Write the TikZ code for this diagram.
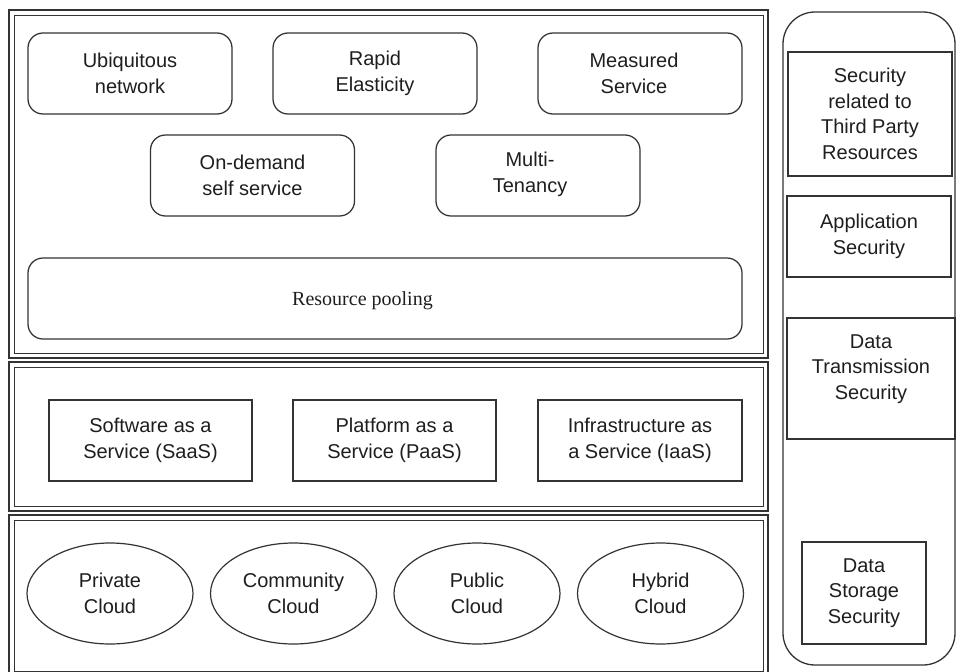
\documentclass[tikz,border=0pt]{standalone}
\usepackage{fontspec}
\setmainfont{Liberation Sans}
\newfontfamily\poolface{Liberation Serif}
\usetikzlibrary{shapes.geometric}

\definecolor{inkline}{HTML}{333333}
\definecolor{inktext}{HTML}{1E1E1E}

\begin{document}
\begin{tikzpicture}[x=1pt,y=-1pt,
  every node/.style={text=inktext},
  labeltext/.style={font=\fontsize{20}{25.5}\selectfont, align=center},
  frameouter/.style={draw=inkline, line width=2pt},
  frameinner/.style={draw=inkline, line width=1pt},
  panel/.style={draw=inkline, line width=1.3pt, rounded corners=32pt},
  featbox/.style={draw=inkline, line width=1.25pt, rounded corners=15pt,
    minimum width=204pt, minimum height=81pt, inner sep=0pt, labeltext},
  servbox/.style={draw=inkline, line width=1.25pt,
    minimum width=203pt, minimum height=81pt, inner sep=0pt, labeltext},
  cloudshape/.style={ellipse, draw=inkline, line width=1.2pt,
    minimum width=166pt, minimum height=101pt, inner sep=0pt, labeltext},
  secbox/.style={draw=inkline, line width=1.3pt, inner sep=0pt, labeltext},
]
\useasboundingbox (0,0) rectangle (956,672);

% three stacked layers, each with a double border
\draw[frameouter] (9,10) rectangle (768,358);
\draw[frameinner] (14,15) rectangle (763,353);
\draw[frameouter] (9,362) rectangle (768,511);
\draw[frameinner] (14,367) rectangle (763,506);
\draw[frameouter] (9,515) rectangle (768,677);
\draw[frameinner] (14,520) rectangle (763,671);

% security column
\draw[panel] (783,12) rectangle (955,665);

% essential characteristics
\node[featbox] (ubi)      at (130,73.5)   {Ubiquitous\\network};
\node[featbox] (rapid)    at (375,73.5)   {Rapid\\Elasticity};
\node[featbox] (measured) at (640,73.5)   {};
\node[labeltext] (measuredtext) at ([xshift=-6pt]measured.center) {Measured\\Service};
\node[featbox] (ondemand) at (252.5,175.5) {On-demand\\self service};
\node[featbox] (multi)    at (538,175.5)  {};
\node[labeltext] (multitext) at ([xshift=-8pt,yshift=1pt]multi.center) {Multi-\\Tenancy};
\node[featbox, minimum width=714pt] (pool) at (385,298.5) {};
\node[font=\poolface\fontsize{20}{24}\selectfont] (pooltext) at (362.5,300.5) {Resource pooling};

% service models
\node[servbox] (saas) at (150.5,440.5) {Software as a\\Service (SaaS)};
\node[servbox] (paas) at (394.5,440.5) {Platform as a\\Service (PaaS)};
\node[servbox, minimum width=204pt] (iaas) at (640,440.5) {Infrastructure as\\a Service (IaaS)};

% deployment models
\node[cloudshape] (private)   at (110,593.5)   {Private\\Cloud};
\node[cloudshape] (community) at (293.5,593.5) {Community\\Cloud};
\node[cloudshape] (public)    at (477,593.5)   {Public\\Cloud};
\node[cloudshape] (hybrid)    at (660.5,593.5) {Hybrid\\Cloud};

% security concerns
\node[secbox, minimum width=164pt, minimum height=124pt] (thirdparty) at (870,114)
  {Security\\related to\\Third Party\\Resources};
\node[secbox, minimum width=164pt, minimum height=81pt] (appsec) at (869,236.5)
  {Application\\Security};
\node[secbox, minimum width=168pt, minimum height=121pt] (transsec) at (871,378.5) {};
\node[labeltext] (transtext) at ([yshift=9.5pt]transsec.center)
  {Data\\Transmission\\Security};
\node[secbox, minimum width=124pt, minimum height=102pt] (storesec) at (864,593)
  {Data\\Storage\\Security};
\end{tikzpicture}
\end{document}
